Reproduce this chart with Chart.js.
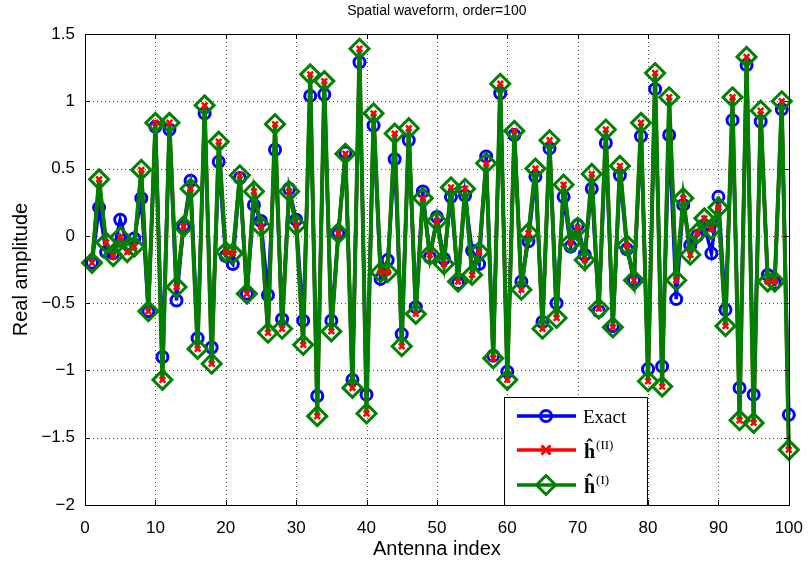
<!DOCTYPE html>
<html><head><meta charset="utf-8">
<script src="https://cdn.jsdelivr.net/npm/chart.js@4/dist/chart.umd.min.js"></script>
<style>html,body{margin:0;padding:0;background:#fff}#wrap{width:808px;height:565px}</style>
</head><body><div id="wrap"><canvas id="c" width="808" height="565"></canvas></div>
<script>
const chartTitle = 'Spatial waveform, order=100';
const xAxisTitle = 'Antenna index';
const yAxisTitle = 'Real amplitude';
const antennaIndex = [1,2,3,4,5,6,7,8,9,10,11,12,13,14,15,16,17,18,19,20,21,22,23,24,25,26,27,28,29,30,31,32,33,34,35,36,37,38,39,40,41,42,43,44,45,46,47,48,49,50,51,52,53,54,55,56,57,58,59,60,61,62,63,64,65,66,67,68,69,70,71,72,73,74,75,76,77,78,79,80,81,82,83,84,85,86,87,88,89,90,91,92,93,94,95,96,97,98,99,100];
const exact = [-0.20,0.21,-0.12,-0.13,0.12,-0.06,-0.02,0.28,-0.56,0.81,
 -0.90,0.79,-0.48,0.07,0.41,-0.76,0.91,-0.83,0.55,-0.15,
 -0.21,0.43,-0.43,0.23,0.11,-0.44,0.64,-0.62,0.35,0.12,
 -0.63,1.04,-1.19,1.05,-0.63,0.02,0.62,-1.07,1.29,-1.18,
 0.82,-0.32,-0.18,0.57,-0.73,0.71,-0.53,0.33,-0.16,0.14,
 -0.17,0.29,-0.35,0.30,-0.11,-0.21,0.59,-0.89,1.06,-1.01,
 0.75,-0.34,-0.04,0.44,-0.64,0.65,-0.50,0.29,-0.08,0.08,
 -0.14,0.35,-0.56,0.69,-0.67,0.45,-0.10,-0.33,0.74,-0.99,
 1.09,-0.97,0.75,-0.47,0.23,-0.07,0.00,0.08,-0.13,0.29,
 -0.55,0.86,-1.13,1.27,-1.18,0.85,-0.29,-0.35,0.94,-1.33];
const hII = [-0.20,0.42,-0.05,-0.15,-0.01,-0.12,-0.08,0.49,-0.56,0.84,
 -1.07,0.84,-0.38,0.07,0.35,-0.84,0.97,-0.95,0.70,-0.12,
 -0.13,0.45,-0.43,0.33,0.07,-0.72,0.83,-0.69,0.33,0.08,
 -0.81,1.20,-1.34,1.15,-0.71,0.02,0.61,-1.13,1.39,-1.32,
 0.91,-0.27,-0.27,0.76,-0.82,0.80,-0.58,0.28,-0.14,0.11,
 -0.21,0.36,-0.34,0.35,-0.29,-0.12,0.54,-0.91,1.13,-1.07,
 0.78,-0.40,0.02,0.50,-0.69,0.71,-0.61,0.38,-0.05,0.06,
 -0.18,0.46,-0.54,0.79,-0.68,0.52,-0.07,-0.33,0.84,-1.08,
 1.21,-1.12,1.03,-0.33,0.28,-0.14,0.02,0.13,0.05,0.21,
 -0.67,1.03,-1.37,1.33,-1.39,0.93,-0.34,-0.34,1.00,-1.59];
const hI = [-0.20,0.42,-0.05,-0.15,-0.01,-0.12,-0.08,0.49,-0.56,0.84,
 -1.07,0.84,-0.38,0.07,0.35,-0.84,0.97,-0.95,0.70,-0.12,
 -0.13,0.45,-0.43,0.33,0.07,-0.72,0.83,-0.69,0.33,0.08,
 -0.81,1.20,-1.34,1.15,-0.71,0.02,0.61,-1.13,1.39,-1.32,
 0.91,-0.27,-0.27,0.76,-0.82,0.80,-0.58,0.28,-0.14,0.11,
 -0.21,0.36,-0.34,0.35,-0.29,-0.12,0.54,-0.91,1.13,-1.07,
 0.78,-0.40,0.02,0.50,-0.69,0.71,-0.61,0.38,-0.05,0.06,
 -0.18,0.46,-0.54,0.79,-0.68,0.52,-0.07,-0.33,0.84,-1.08,
 1.21,-1.12,1.03,-0.33,0.28,-0.14,0.02,0.13,0.05,0.21,
 -0.67,1.03,-1.37,1.33,-1.39,0.93,-0.34,-0.34,1.00,-1.59];
const xTicks = [0,10,20,30,40,50,60,70,80,90,100];
const xTickLabels = ['0','10','20','30','40','50','60','70','80','90','100'];
const yTicks = [-2,-1.5,-1,-0.5,0,0.5,1,1.5];
const yTickLabels = ['\u22122','\u22121.5','\u22121','\u22120.5','0','0.5','1','1.5'];
const legendItems = [
  {main:'Exact', sup:'', color:'#0000ff', marker:'circle'},
  {main:'h\u0302', sup:'(II)', color:'#ff0000', marker:'cross'},
  {main:'h\u0302', sup:'(I)', color:'#008000', marker:'diamond'}
];

const pts = arr => antennaIndex.map((x,i)=>({x:x, y:arr[i]}));

function drawMarker(ctx, type, x, y, color){
  ctx.save(); ctx.strokeStyle=color; ctx.lineWidth=3; ctx.setLineDash([]);
  ctx.beginPath();
  if(type==='circle'){ ctx.arc(x,y,5.5,0,Math.PI*2); }
  else if(type==='cross'){ const r=4.5; ctx.moveTo(x-r,y-r);ctx.lineTo(x+r,y+r);ctx.moveTo(x+r,y-r);ctx.lineTo(x-r,y+r); }
  else { const r=9.5; ctx.moveTo(x,y-r);ctx.lineTo(x+r,y);ctx.lineTo(x,y+r);ctx.lineTo(x-r,y);ctx.closePath(); }
  ctx.stroke(); ctx.restore();
}

const matlabFrame = {
  id:'matlabFrame',
  beforeDatasetsDraw(chart){
    const {ctx, chartArea:a, scales:{x,y}} = chart;
    ctx.save();
    ctx.strokeStyle='rgba(0,0,0,0.7)'; ctx.lineWidth=1; ctx.setLineDash([1,3]);
    xTicks.forEach(v=>{ if(v===xTicks[0]||v===xTicks[xTicks.length-1]) return;
      const p=Math.round(x.getPixelForValue(v))+0.5; ctx.beginPath(); ctx.moveTo(p,a.top); ctx.lineTo(p,a.bottom); ctx.stroke(); });
    yTicks.forEach(v=>{ if(v===yTicks[0]||v===yTicks[yTicks.length-1]) return;
      const p=Math.round(y.getPixelForValue(v))+0.5; ctx.beginPath(); ctx.moveTo(a.left,p); ctx.lineTo(a.right,p); ctx.stroke(); });
    ctx.restore();
  },
  afterDatasetsDraw(chart){
    const {ctx, chartArea:a, scales:{x,y}} = chart;
    ctx.save();
    ctx.setLineDash([]); ctx.strokeStyle='#000'; ctx.lineWidth=1;
    ctx.strokeRect(Math.round(a.left)+0.5, Math.round(a.top)+0.5, Math.round(a.right-a.left), Math.round(a.bottom-a.top));
    const tl=5;
    xTicks.forEach(v=>{ const p=Math.round(x.getPixelForValue(v))+0.5; ctx.beginPath();
      ctx.moveTo(p,a.bottom); ctx.lineTo(p,a.bottom-tl); ctx.moveTo(p,a.top); ctx.lineTo(p,a.top+tl); ctx.stroke(); });
    yTicks.forEach(v=>{ const p=Math.round(y.getPixelForValue(v))+0.5; ctx.beginPath();
      ctx.moveTo(a.left,p); ctx.lineTo(a.left+tl,p); ctx.moveTo(a.right,p); ctx.lineTo(a.right-tl,p); ctx.stroke(); });
    ctx.fillStyle='#000';
    ctx.font='14px "Liberation Sans", Arial, sans-serif'; ctx.textAlign='center'; ctx.textBaseline='middle';
    ctx.fillText(chartTitle, (a.left+a.right)/2, 11);
    ctx.font='20px "Liberation Sans", Arial, sans-serif';
    ctx.fillText(xAxisTitle, (a.left+a.right)/2, 549);
    ctx.save(); ctx.translate(21,(a.top+a.bottom)/2); ctx.rotate(-Math.PI/2); ctx.fillText(yAxisTitle,0,0); ctx.restore();
    const L=504.5, T=397.5, W=143, H=108;
    ctx.fillStyle='#fff'; ctx.fillRect(L,T,W,H); ctx.strokeStyle='#000'; ctx.lineWidth=1; ctx.strokeRect(L,T,W,H);
    const rows=[416,450,485];
    legendItems.forEach((it,i)=>{
      const yy=rows[i];
      ctx.strokeStyle=it.color; ctx.lineWidth=3.5; ctx.beginPath(); ctx.moveTo(517,yy); ctx.lineTo(576,yy); ctx.stroke();
      drawMarker(ctx,it.marker,546,yy,it.color);
      ctx.fillStyle='#000'; ctx.textAlign='left'; ctx.textBaseline='alphabetic';
      if(!it.sup){ ctx.font='19px "Liberation Serif", "Times New Roman", serif'; ctx.fillText(it.main,583,yy+7); }
      else { ctx.font='bold 20px "Liberation Serif", "Times New Roman", serif'; ctx.fillText(it.main,584,yy+8);
        const w=ctx.measureText(it.main).width; ctx.font='13px "Liberation Serif", "Times New Roman", serif'; ctx.fillText(it.sup,584+w+1,yy-1); }
    });
    ctx.restore();
  }
};

new Chart(document.getElementById('c'), {
  type:'line',
  data:{ datasets:[
    {label:'Exact', data:pts(exact), borderColor:'#0000ff', borderWidth:3.5, pointStyle:'circle', pointRadius:5.5, pointBorderWidth:3, pointBorderColor:'#0000ff', pointBackgroundColor:'rgba(0,0,0,0)', tension:0, clip:false, order:4},
    {label:'hII line', data:pts(hII), borderColor:'#ff0000', borderWidth:3.5, pointRadius:0, tension:0, clip:false, order:3},
    {label:'hI', data:pts(hI), borderColor:'#008000', borderWidth:4, pointStyle:'rectRot', pointRadius:9.5, pointBorderWidth:3, pointBorderColor:'#008000', pointBackgroundColor:'rgba(0,0,0,0)', tension:0, clip:false, order:2},
    {label:'hII markers', data:pts(hII), showLine:false, borderColor:'#ff0000', pointStyle:'crossRot', pointRadius:4, pointBorderWidth:2.5, pointBorderColor:'#ff0000', clip:false, order:1}
  ]},
  options:{
    responsive:false, animation:false, devicePixelRatio:1,
    layout:{padding:{top:34,right:18,left:0,bottom:0}},
    plugins:{legend:{display:false}, tooltip:{enabled:false}, title:{display:false}},
    scales:{
      x:{type:'linear', min:0, max:100,
        afterBuildTicks:s=>{ s.ticks = xTicks.map(v=>({value:v})); },
        afterFit:s=>{ s.height=60; },
        grid:{display:false}, border:{display:false},
        ticks:{autoSkip:false, maxRotation:0, padding:5, color:'#000', font:{family:'"Liberation Sans", Arial, sans-serif', size:17},
          callback:(v)=>xTickLabels[xTicks.indexOf(v)]}},
      y:{type:'linear', min:-2, max:1.5,
        afterBuildTicks:s=>{ s.ticks = yTicks.map(v=>({value:v})); },
        afterFit:s=>{ s.width=85; },
        grid:{display:false}, border:{display:false},
        ticks:{autoSkip:false, padding:2, color:'#000', font:{family:'"Liberation Sans", Arial, sans-serif', size:17},
          callback:(v)=>yTickLabels[yTicks.indexOf(v)]}}
    }
  },
  plugins:[matlabFrame]
});
</script>
</body></html>
